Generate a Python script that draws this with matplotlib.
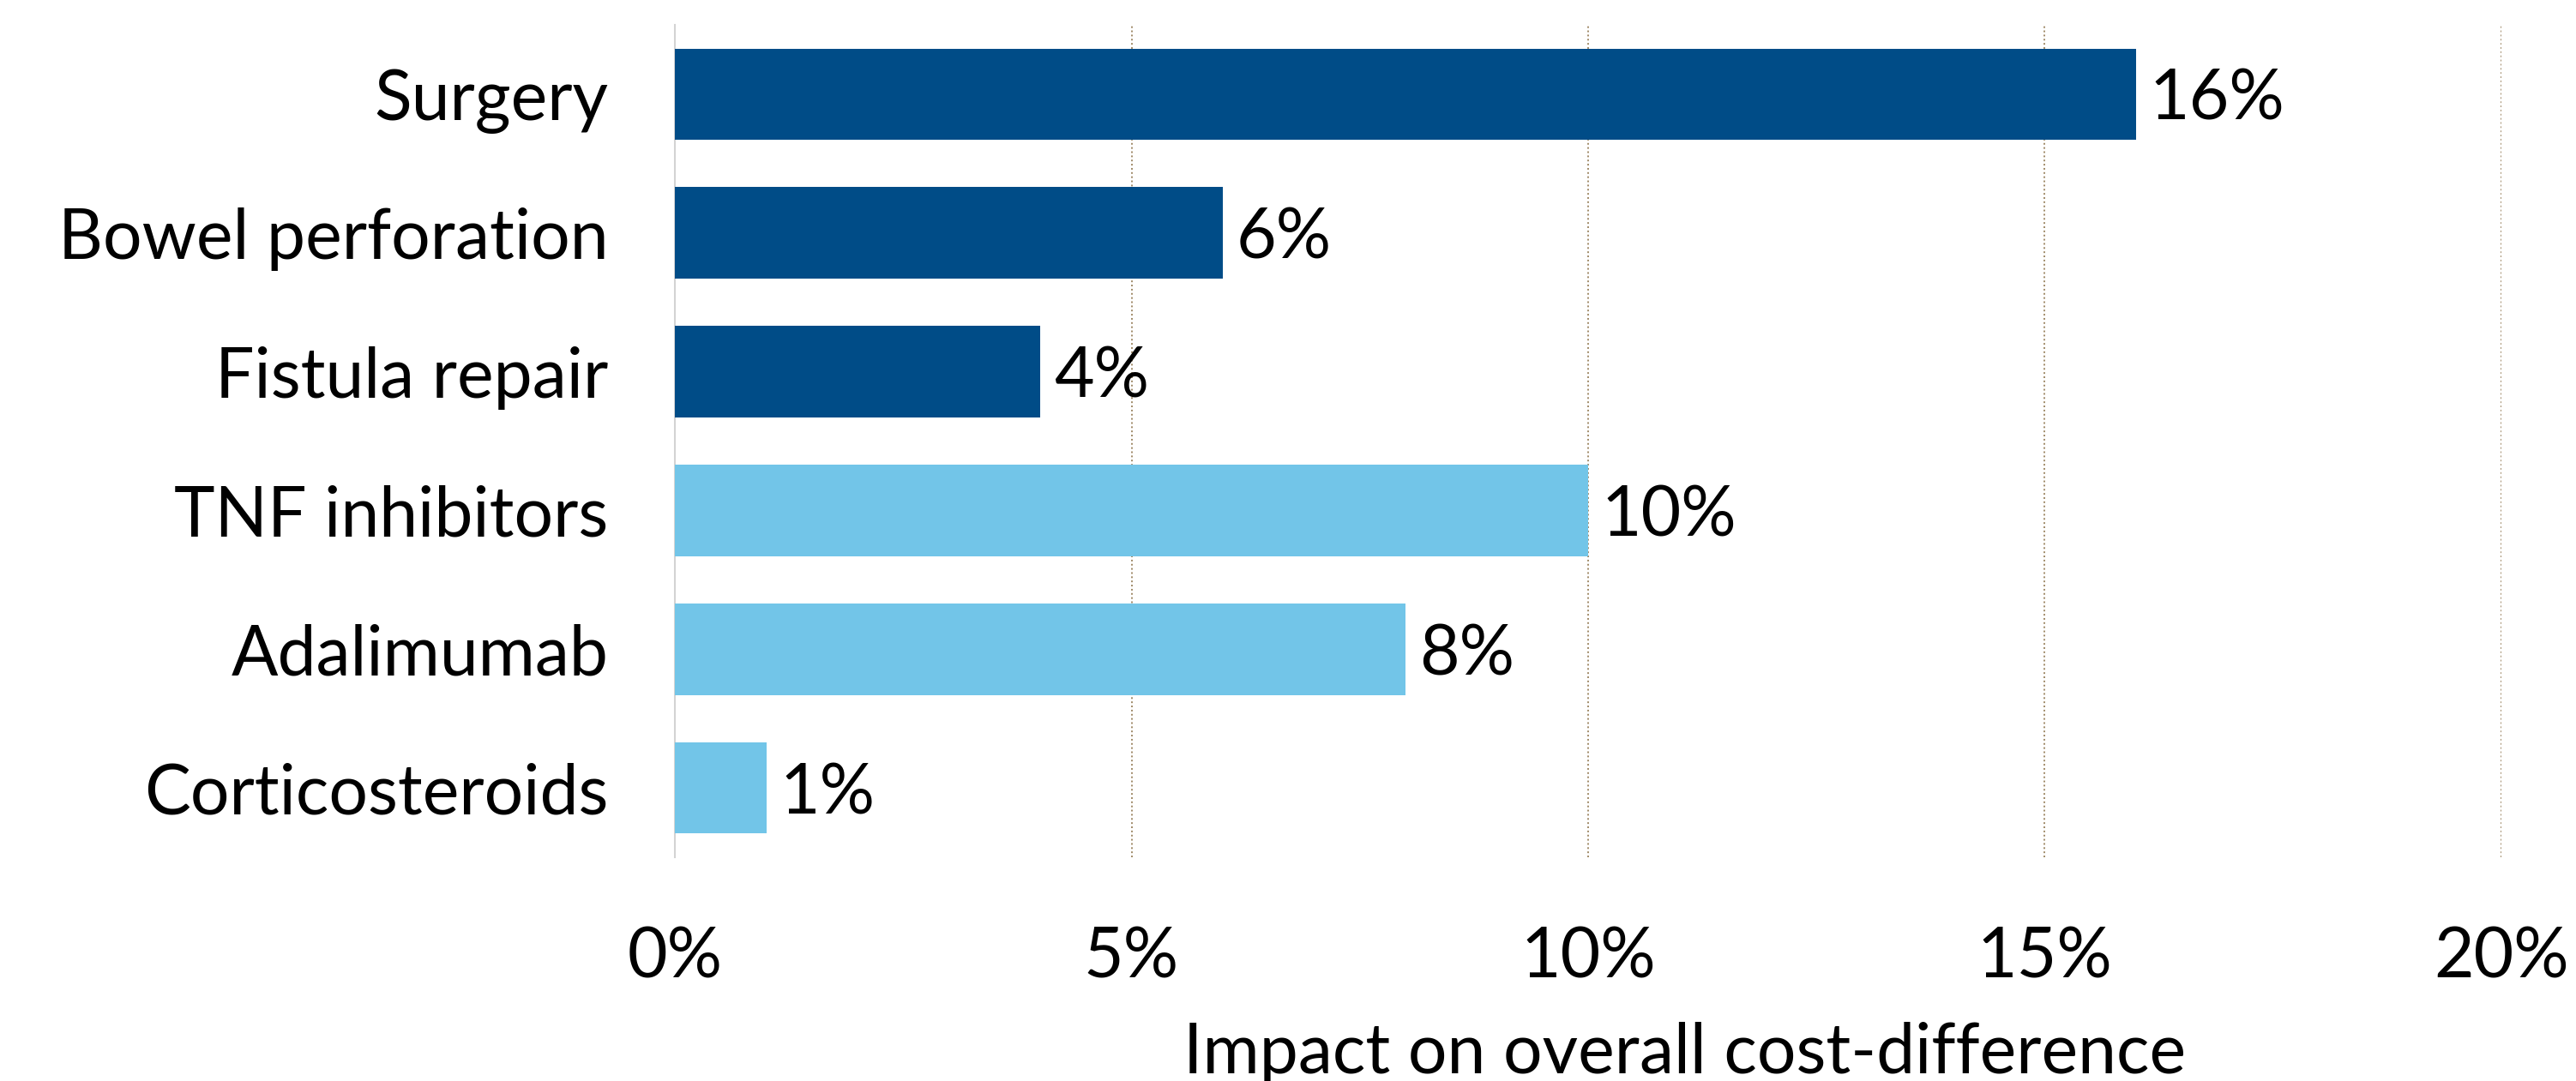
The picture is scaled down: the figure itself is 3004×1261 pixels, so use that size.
import matplotlib.pyplot as plt
from matplotlib.ticker import FuncFormatter

plt.rcParams['font.family'] = ['Lato', 'DejaVu Sans']

# data
categories = ['Surgery', 'Bowel perforation', 'Fistula repair',
              'TNF inhibitors', 'Adalimumab', 'Corticosteroids']
impact = [16, 6, 4, 10, 8, 1]
colors = ['#004C87', '#004C87', '#004C87', '#72C5E8', '#72C5E8', '#72C5E8']
xticks = [0, 5, 10, 15, 20]

FS = 58

fig = plt.figure(figsize=(30.04, 12.61), dpi=100)
ax = fig.add_axes([0.262, 0.207, 0.709, 0.770])

ypos = list(range(len(categories)))
ax.barh(ypos, impact, height=0.66, color=colors, zorder=3)

# value labels
for y, v in zip(ypos, impact):
    ax.text(v + 0.15, y, f'{v}%', va='center_baseline', ha='left', fontsize=FS, zorder=4)

ax.set_xlim(0, 20)
ax.set_ylim(len(categories) - 0.5, -0.5)
ax.set_yticks(ypos)
ax.set_yticklabels(categories, fontsize=FS)
ax.set_xticks(xticks)
ax.xaxis.set_major_formatter(FuncFormatter(lambda v, p: f'{v:.0f}%'))
ax.tick_params(axis='x', labelsize=FS, length=0, pad=58)
ax.tick_params(axis='y', length=0, pad=56)

# dotted gridlines
ax.grid(axis='x', linestyle=(0, (1, 1.5)), color='#A08A68', linewidth=1.4, zorder=0)
ax.xaxis.get_gridlines()[0].set_visible(False)

for s in ['top', 'right', 'bottom']:
    ax.spines[s].set_visible(False)
ax.spines['left'].set_color('#D3D3D3')
ax.spines['left'].set_linewidth(1.5)

ax.set_xlabel('Impact on overall cost-difference', fontsize=FS)
ax.xaxis.set_label_coords(0.553, -0.198)

fig.savefig('out.png', dpi=100)
